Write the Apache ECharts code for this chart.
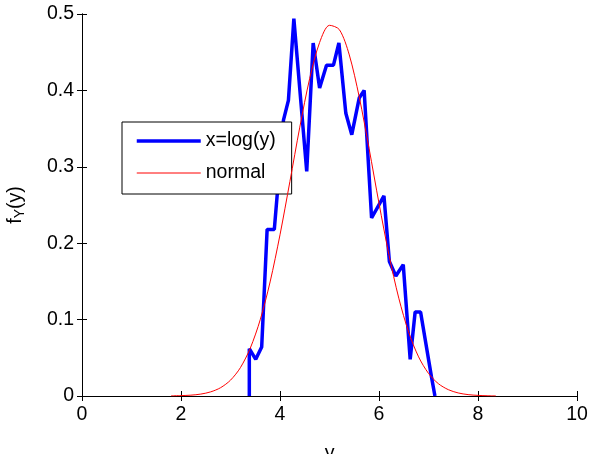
<!DOCTYPE html>
<html>
<head>
<meta charset="utf-8">
<script src="https://cdn.jsdelivr.net/npm/echarts@6/dist/echarts.min.js"></script>
<style>
html,body{margin:0;padding:0;background:#fff;}
#chart{width:615px;height:454px;}
</style>
</head>
<body>
<div id="chart"></div>
<script>
// Empirical density of x = log(y) (histogram polyline)
const histX = [3.38, 3.38, 3.51, 3.63, 3.74, 3.885, 4.07, 4.17, 4.28, 4.54, 4.67, 4.80, 4.94, 5.08, 5.19, 5.33, 5.45, 5.60, 5.70, 5.85, 6.10, 6.21, 6.34, 6.49, 6.63, 6.73, 6.84, 7.06, 7.13];
const histY = [0, 0.062, 0.048, 0.064, 0.218, 0.218, 0.361, 0.387, 0.494, 0.294, 0.462, 0.403, 0.433, 0.433, 0.462, 0.370, 0.342, 0.390, 0.400, 0.233, 0.262, 0.176, 0.157, 0.172, 0.048, 0.110, 0.110, 0.025, 0];

// Normal density curve
const normX = [1.8, 2.0, 2.2, 2.4, 2.6, 2.8, 3.0, 3.2, 3.4, 3.6, 3.8, 4.0, 4.2, 4.4, 4.6, 4.8, 5.0, 5.2, 5.4, 5.6, 5.8, 6.0, 6.2, 6.4, 6.6, 6.8, 7.0, 7.2, 7.4, 7.6, 7.8, 8.0, 8.2, 8.36];
const normY = [0.0002, 0.0005, 0.0011, 0.0025, 0.0054, 0.0109, 0.0207, 0.0371, 0.0627, 0.0997, 0.1493, 0.2110, 0.2807, 0.3519, 0.4157, 0.4627, 0.4852, 0.4795, 0.4464, 0.3916, 0.3238, 0.2522, 0.1851, 0.1280, 0.0834, 0.0512, 0.0296, 0.0161, 0.0083, 0.0040, 0.0018, 0.0008, 0.0003, 0.0001];

const xTicks = [0, 2, 4, 6, 8, 10];
const yTicks = [0, 0.1, 0.2, 0.3, 0.4, 0.5];

const seriesNames = ['x=log(y)', 'normal'];

const FONT = 'Liberation Sans, Arial, sans-serif';
const chart = echarts.init(document.getElementById('chart'), null, {renderer: 'canvas'});

const zip = (xs, ys) => xs.map((x, i) => [x, ys[i]]);

const axisCommon = {
  type: 'value',
  axisLine: {show: true, lineStyle: {color: '#000', width: 1}},
  axisTick: {show: true, inside: true, length: 5, lineStyle: {color: '#000', width: 1}},
  splitLine: {show: false}
};

chart.setOption({
  backgroundColor: '#fff',
  animation: false,
  grid: {left: 82, right: 38, top: 14, bottom: 58, containLabel: false, outerBoundsMode: 'none'},
  legend: {
    orient: 'vertical',
    left: 122, top: 122,
    data: [
      {name: seriesNames[0], lineStyle: {width: 3.5, color: '#0000ff'}},
      {name: seriesNames[1], lineStyle: {width: 1, color: '#ff0000'}}
    ],
    itemWidth: 64, itemHeight: 14, itemGap: 12,
    padding: [9, 16, 11, 13],
    borderColor: '#000', borderWidth: 1,
    backgroundColor: '#fff',
    itemStyle: {opacity: 0},
    textStyle: {fontFamily: FONT, fontSize: 19.5, color: '#000', lineHeight: 18}
  },
  xAxis: [
    Object.assign({}, axisCommon, {
      position: 'bottom', min: 0, max: 10, interval: 2,
      axisLabel: {show: true, margin: 9, fontFamily: FONT, fontSize: 19.5, color: '#000',
        formatter: v => xTicks.includes(v) ? String(v) : ''},
      name: 'y', nameLocation: 'middle', nameGap: 48,
      nameTextStyle: {fontFamily: FONT, fontSize: 19.5, color: '#000'}
    }),
    Object.assign({}, axisCommon, {
      position: 'top', min: 0, max: 10, interval: 2,
      axisLabel: {show: false}
    })
  ],
  yAxis: [
    Object.assign({}, axisCommon, {
      position: 'left', min: 0, max: 0.5, interval: 0.1,
      axisLabel: {show: true, margin: 8, fontFamily: FONT, fontSize: 19.5, color: '#000',
        formatter: v => { const t = yTicks.find(y => Math.abs(y - v) < 1e-9); return t === undefined ? '' : String(t); }},
      name: '{f|f}{s|Y}{f|(y)}', nameLocation: 'middle', nameGap: 55, nameRotate: 90,
      nameTextStyle: {fontFamily: FONT, color: '#000',
        rich: {
          f: {fontFamily: FONT, fontSize: 19.5, color: '#000'},
          s: {fontFamily: FONT, fontSize: 14, color: '#000', verticalAlign: 'bottom', padding: [8, 0, 0, 0]}
        }}
    }),
    Object.assign({}, axisCommon, {
      position: 'right', min: 0, max: 0.5, interval: 0.1,
      axisLabel: {show: false}
    })
  ],
  series: [
    {
      name: seriesNames[0], type: 'line', data: zip(histX, histY),
      xAxisIndex: 0, yAxisIndex: 0,
      symbol: 'none', showSymbol: false,
      lineStyle: {color: '#0000ff', width: 3.5},
      itemStyle: {color: '#0000ff'},
      z: 3
    },
    {
      name: seriesNames[1], type: 'line', data: zip(normX, normY),
      xAxisIndex: 0, yAxisIndex: 0,
      symbol: 'none', showSymbol: false, smooth: 0.3,
      lineStyle: {color: '#ff0000', width: 1},
      itemStyle: {color: '#ff0000'},
      z: 4
    }
  ]
});
</script>
</body>
</html>
